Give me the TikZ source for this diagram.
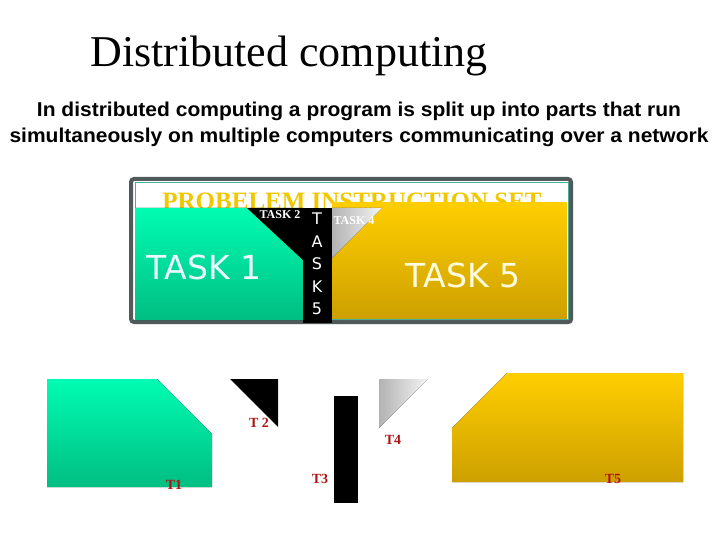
\documentclass[tikz,border=0pt]{standalone}
\usepackage{fontspec}
\setmainfont{Liberation Serif}
\newfontfamily\tasksans{DejaVu Sans}
\newfontfamily\leadsans[FakeStretch=1.05]{Liberation Sans}
\usetikzlibrary{
	shapes,
	calc,
	shadows}

\definecolor{tealtop}{RGB}{0,252,178}
\definecolor{tealbot}{RGB}{0,190,130}
\definecolor{goldtop}{RGB}{255,206,0}
\definecolor{goldbot}{RGB}{205,160,0}
\definecolor{goldtext}{RGB}{240,200,0}
\definecolor{labelred}{RGB}{175,20,20}
\definecolor{framegray}{RGB}{80,90,90}
\definecolor{frameteal}{RGB}{70,175,155}

\tikzset{
	greenpart/.style={top color=tealtop, bottom color=tealbot},
	goldpart/.style={top color=goldtop, bottom color=goldbot},
	greypart/.style={left color=gray!60, right color=gray!8},
	bigtask/.style={font=\tasksans\fontsize{33}{33}\selectfont},
	smalltask/.style={font=\bfseries\fontsize{12}{12}\selectfont, text=white},
	partlabel/.style={font=\bfseries\fontsize{14}{14}\selectfont, text=labelred}}

\begin{document}
\begin{tikzpicture}[x=1pt,y=-1pt]
      \useasboundingbox (0,0) rectangle (720,540);

      \node (title) at (289,56) {\fontsize{44}{44}\selectfont Distributed computing};
      \node[align=center, font=\leadsans\bfseries\fontsize{20}{26}\selectfont] (lead) at (359,124)
        {In distributed computing a program is split up into parts that run\\
         simultaneously on multiple computers communicating over a network};

      \draw[line width=4pt, draw=framegray, fill=white, rounded corners=3pt,
        drop shadow={opacity=0.4, shadow xshift=2pt, shadow yshift=-2pt}] (131,179) rectangle (571,322);
      \draw[frameteal, line width=0.8pt] (135.5,182.5) rectangle (568.5,319.5);
      \node[font=\bfseries\fontsize{25}{25}\selectfont, text=goldtext] (setname) at (352,201) {PROBELEM INSTRUCTION SET};

      \fill[goldpart] (332,203) rectangle (567,318);
      \fill[greenpart] (135,208) -- (247,208) -- (303,260) -- (303,320) -- (135,320) -- cycle;
      \fill[black] (247,208) -- (303,208) -- (303,260) -- cycle;
      \fill[black] (303,208) rectangle (332,323);
      \fill[greypart] (332,208) -- (382,208) -- (332,258) -- cycle;

      \node[bigtask, text=cyan!8] (task1) at (204,267) {TASK 1};
      \node[bigtask, text=yellow!12] (task5) at (463,275) {TASK 5};
      \node[smalltask] (task2) at (280,215) {TASK 2};
      \node[smalltask] (task4) at (354,221) {TASK 4};
      \node[align=center, text=white, font=\tasksans\fontsize{16}{22.5}\selectfont] (task5col) at (317,264)
        {T\\A\\S\\K\\5};

      \fill[greenpart] (47,379) -- (157,379) -- (212,434) -- (212,487) -- (47,487) -- cycle;
      \fill[black] (230,379) -- (278,379) -- (278,427) -- cycle;
      \fill[black] (334,396) rectangle (358,503);
      \fill[greypart] (379,379) -- (428,379) -- (379,428) -- cycle;
      \fill[goldpart] (507,373) -- (683,373) -- (683,482) -- (452,482) -- (452,428) -- cycle;

      \node[partlabel] (t1) at (174,485) {T1};
      \node[partlabel] (t2) at (259,423) {T 2};
      \node[partlabel] (t3) at (320,479) {T3};
      \node[partlabel] (t4) at (393,440) {T4};
      \node[partlabel] (t5) at (613,479) {T5};
\end{tikzpicture}
\end{document}
